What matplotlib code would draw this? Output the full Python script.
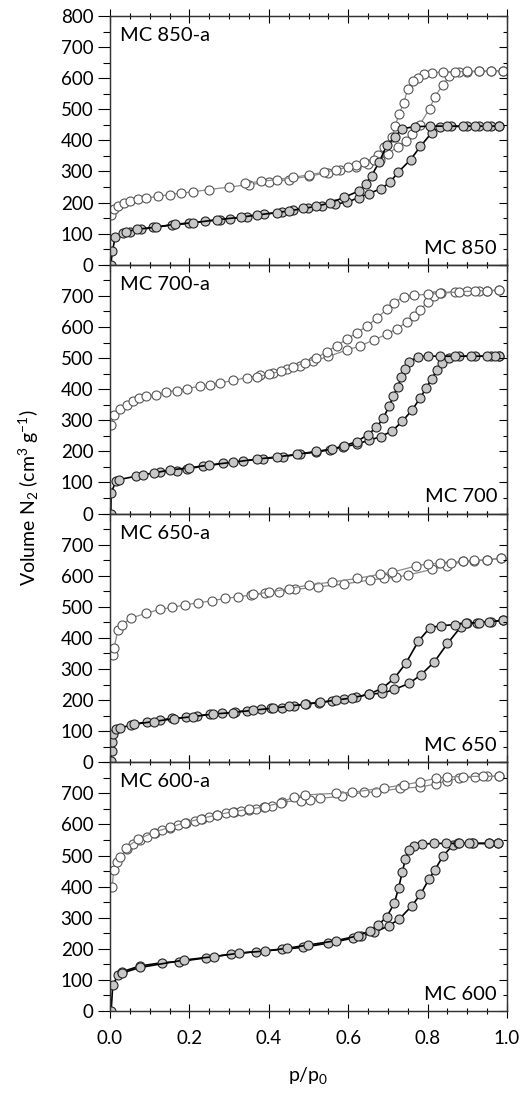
import numpy as np
import matplotlib.pyplot as plt

plt.rcParams['font.family'] = ['Lato', 'DejaVu Sans']
plt.rcParams['mathtext.fontset'] = 'custom'
plt.rcParams['mathtext.rm'] = 'Lato'
plt.rcParams['mathtext.it'] = 'Lato:italic'

# ---- MC850 panel ----
mc850a_ads_p = [0.003, 0.01, 0.02, 0.035, 0.05, 0.07, 0.09, 0.12, 0.15, 0.18, 0.21, 0.25, 0.30, 0.35,
                0.40, 0.45, 0.50, 0.55, 0.58, 0.62, 0.65, 0.68, 0.70, 0.725, 0.745, 0.76, 0.78, 0.805,
                0.818, 0.838, 0.855, 0.88, 0.90, 0.93, 0.96, 0.99]
mc850a_ads_v = [160, 178, 190, 198, 205, 210, 214, 220, 226, 230, 235, 242, 250, 258,
                265, 274, 285, 296, 305, 315, 325, 338, 357, 380, 399, 420, 450, 502,
                540, 578, 607, 620, 621, 622, 623, 624]
mc850a_des_p = [0.99, 0.96, 0.93, 0.90, 0.87, 0.84, 0.81, 0.79, 0.775, 0.763, 0.75, 0.74, 0.728, 0.718,
                0.71, 0.69, 0.675, 0.664, 0.64, 0.62, 0.60, 0.57, 0.54, 0.50, 0.46, 0.42, 0.38, 0.34]
mc850a_des_v = [624, 624, 623, 622, 621, 620, 618, 612, 600, 592, 566, 521, 485, 445,
                411, 380, 353, 336, 330, 322, 315, 305, 298, 289, 281, 274, 268, 262]
mc850_ads_p = [0.002, 0.006, 0.013, 0.034, 0.05, 0.079, 0.109, 0.155, 0.199, 0.239, 0.277, 0.302, 0.344,
               0.389, 0.432, 0.462, 0.498, 0.533, 0.566, 0.597, 0.626, 0.652, 0.683, 0.705, 0.726,
               0.757, 0.782, 0.81, 0.83, 0.86, 0.90, 0.93, 0.96, 0.98]
mc850_ads_v = [0, 43, 88, 101, 107, 114, 120, 128, 133, 140, 145, 147, 155,
               163, 169, 176, 183, 188, 195, 201, 216, 229, 245, 265, 298,
               338, 381, 424, 444, 445, 445, 445, 445, 445]
mc850_des_p = [0.98, 0.95, 0.92, 0.89, 0.85, 0.806, 0.769, 0.735, 0.718, 0.697, 0.678, 0.659, 0.644,
               0.626, 0.59, 0.554, 0.52, 0.487, 0.45, 0.42, 0.37, 0.33, 0.27, 0.21, 0.165, 0.117, 0.067, 0.04]
mc850_des_v = [446, 446, 446, 446, 446, 446, 444, 438, 411, 384, 330, 287, 260,
               237, 217, 199, 188, 181, 173, 168, 160, 153, 145, 135, 131, 121, 114, 106]

# ---- MC700 panel ----
mc700a_ads_p = [0.003, 0.01, 0.025, 0.042, 0.057, 0.074, 0.091, 0.117, 0.142, 0.168, 0.193, 0.226, 0.252,
                0.277, 0.311, 0.344, 0.378, 0.411, 0.445, 0.479, 0.512, 0.55, 0.597, 0.63, 0.664, 0.698,
                0.723, 0.749, 0.765, 0.78, 0.80, 0.816, 0.833, 0.87, 0.90, 0.93, 0.95, 0.98]
mc700a_ads_v = [286, 318, 337, 350, 361, 372, 377, 382, 392, 395, 402, 409, 413,
                420, 428, 437, 444, 452, 465, 476, 490, 505, 526, 539, 558, 577,
                595, 617, 635, 654, 680, 698, 710, 714, 715, 716, 717, 718]
mc700a_des_p = [0.98, 0.95, 0.92, 0.88, 0.83, 0.80, 0.765, 0.74, 0.715, 0.698, 0.673, 0.648, 0.622,
                0.597, 0.571, 0.546, 0.52, 0.49, 0.46, 0.43, 0.40, 0.37]
mc700a_des_v = [718, 717, 716, 713, 708, 705, 702, 697, 678, 657, 630, 603, 582,
                561, 540, 520, 500, 485, 470, 458, 448, 440]
mc700_ads_p = [0.002, 0.003, 0.015, 0.022, 0.066, 0.084, 0.126, 0.168, 0.193, 0.235, 0.285, 0.336,
               0.386, 0.436, 0.478, 0.52, 0.554, 0.588, 0.621, 0.653, 0.682, 0.711, 0.736, 0.761,
               0.782, 0.797, 0.811, 0.824, 0.837, 0.854, 0.88, 0.92, 0.96, 0.98]
mc700_ads_v = [0, 67, 104, 109, 120, 125, 133, 137, 144, 152, 161, 169,
               176, 183, 191, 198, 205, 214, 223, 236, 247, 266, 296, 333,
               373, 405, 434, 463, 485, 501, 506, 506, 506, 506]
mc700_des_p = [0.98, 0.97, 0.95, 0.91, 0.87, 0.83, 0.80, 0.775, 0.754, 0.744, 0.734, 0.725, 0.713,
               0.703, 0.688, 0.671, 0.65, 0.621, 0.59, 0.56, 0.52, 0.47, 0.42, 0.37, 0.31, 0.25,
               0.20, 0.15, 0.11]
mc700_des_v = [506, 506, 506, 506, 506, 506, 506, 504, 488, 466, 440, 408, 377,
               345, 306, 277, 254, 231, 218, 207, 200, 190, 182, 175, 165, 156,
               147, 140, 130]

# ---- MC650 panel ----
mc650a_ads_p = [0.008, 0.01, 0.02, 0.03, 0.052, 0.09, 0.127, 0.155, 0.189, 0.222, 0.256, 0.289, 0.323,
                0.356, 0.39, 0.425, 0.467, 0.523, 0.589, 0.655, 0.69, 0.72, 0.75, 0.81, 0.85, 0.89,
                0.917, 0.95, 0.984]
mc650a_ads_v = [345, 366, 425, 441, 463, 479, 492, 498, 506, 513, 519, 527, 532,
                538, 543, 548, 556, 564, 573, 586, 591, 595, 602, 620, 631, 647,
                648, 650, 656]
mc650a_des_p = [0.984, 0.95, 0.917, 0.89, 0.858, 0.83, 0.80, 0.77, 0.71, 0.68, 0.622, 0.56, 0.50,
                0.45, 0.40, 0.36]
mc650a_des_v = [656, 652, 649, 647, 642, 640, 638, 631, 611, 605, 591, 580, 570,
                558, 547, 540]
mc650_ads_p = [0.0025, 0.004, 0.005, 0.008, 0.015, 0.025, 0.052, 0.093, 0.127, 0.155, 0.192, 0.218,
               0.253, 0.283, 0.316, 0.346, 0.38, 0.405, 0.434, 0.463, 0.493, 0.527, 0.56, 0.59,
               0.62, 0.652, 0.686, 0.716, 0.754, 0.783, 0.817, 0.85, 0.884, 0.90, 0.925, 0.96, 0.99]
mc650_ads_v = [5, 37, 64, 91, 107, 109, 120, 130, 136, 141, 144, 149,
               154, 157, 162, 166, 170, 173, 175, 181, 187, 192, 197, 202,
               209, 219, 222, 234, 254, 281, 323, 382, 436, 447, 449, 452, 457]
mc650_des_p = [0.99, 0.955, 0.93, 0.896, 0.87, 0.833, 0.806, 0.777, 0.745, 0.716, 0.686, 0.652,
               0.61, 0.57, 0.53, 0.49, 0.45, 0.41, 0.36, 0.31, 0.26, 0.21, 0.16, 0.11, 0.06]
mc650_des_v = [457, 451, 449, 447, 443, 439, 433, 390, 318, 270, 238, 219,
               207, 200, 193, 187, 180, 174, 167, 160, 155, 147, 140, 131, 122]

# ---- MC600 panel ----
mc600a_ads_p = [0.006, 0.009, 0.017, 0.025, 0.043, 0.058, 0.075, 0.092, 0.113, 0.131, 0.15, 0.171,
                0.192, 0.213, 0.232, 0.249, 0.27, 0.291, 0.312, 0.329, 0.35, 0.367, 0.388, 0.409,
                0.434, 0.48, 0.505, 0.53, 0.585, 0.64, 0.67, 0.73, 0.78, 0.82, 0.85, 0.88, 0.92,
                0.95, 0.98]
mc600a_ads_v = [400, 453, 480, 496, 520, 537, 550, 560, 573, 582, 589, 598,
                605, 612, 616, 623, 630, 636, 641, 644, 648, 650, 655, 659,
                673, 676, 680, 684, 691, 704, 704, 716, 720, 730, 741, 748, 754,
                755, 755]
mc600a_des_p = [0.98, 0.94, 0.89, 0.85, 0.82, 0.78, 0.74, 0.69, 0.61, 0.568, 0.492, 0.464, 0.43,
                0.39, 0.35, 0.31, 0.27, 0.23, 0.19, 0.15, 0.11, 0.07, 0.04]
mc600a_des_v = [755, 755, 754, 753, 748, 737, 727, 718, 703, 700, 695, 689, 670,
                657, 649, 641, 631, 619, 606, 591, 574, 552, 525]
mc600_ads_p = [0.003, 0.007, 0.021, 0.03, 0.076, 0.13, 0.174, 0.242, 0.304, 0.367, 0.433, 0.487,
               0.548, 0.611, 0.632, 0.666, 0.702, 0.729, 0.76, 0.782, 0.803, 0.818, 0.839,
               0.864, 0.876, 0.912, 0.954, 0.977]
mc600_ads_v = [1, 84, 116, 126, 145, 155, 159, 171, 183, 191, 198, 205,
               218, 234, 240, 253, 274, 296, 338, 375, 423, 453, 499,
               534, 540, 539, 539, 539]
mc600_des_p = [0.977, 0.954, 0.915, 0.905, 0.878, 0.846, 0.817, 0.786, 0.765, 0.752, 0.744, 0.736,
               0.727, 0.716, 0.697, 0.676, 0.655, 0.625, 0.569, 0.498, 0.447, 0.391, 0.325, 0.263,
               0.187, 0.076, 0.03]
mc600_des_v = [539, 539, 539, 539, 539, 539, 539, 537, 531, 518, 488, 446,
               396, 346, 303, 277, 258, 242, 226, 212, 202, 193, 186, 175,
               164, 140, 122]

panels = [
    ("MC 850", mc850a_ads_p, mc850a_ads_v, mc850a_des_p, mc850a_des_v,
     mc850_ads_p, mc850_ads_v, mc850_des_p, mc850_des_v),
    ("MC 700", mc700a_ads_p, mc700a_ads_v, mc700a_des_p, mc700a_des_v,
     mc700_ads_p, mc700_ads_v, mc700_des_p, mc700_des_v),
    ("MC 650", mc650a_ads_p, mc650a_ads_v, mc650a_des_p, mc650a_des_v,
     mc650_ads_p, mc650_ads_v, mc650_des_p, mc650_des_v),
    ("MC 600", mc600a_ads_p, mc600a_ads_v, mc600a_des_p, mc600a_des_v,
     mc600_ads_p, mc600_ads_v, mc600_des_p, mc600_des_v),
]

fig, axes = plt.subplots(4, 1, figsize=(5.22, 11.06), dpi=100, sharex=True)
fig.subplots_adjust(left=0.2107, right=0.9713, top=0.9855, bottom=0.0859, hspace=0)

open_style = dict(color='#8a8a8a', lw=0.9, marker='o', ms=6.5, mfc='white', mec='#555555', mew=0.8)
fill_style = dict(color='black', lw=1.2, marker='o', ms=6.5, mfc='#c8c8c8', mec='#222222', mew=0.8)

for i, (ax, pan) in enumerate(zip(axes, panels)):
    name, aap, aav, adp, adv, ap, av, dp, dv = pan
    ax.plot(aap, aav, **open_style)
    ax.plot(adp, adv, **open_style)
    ax.plot(ap, av, **fill_style)
    ax.plot(dp, dv, **fill_style)

    ax.set_xlim(0, 1.0)
    ax.set_ylim(0, 800)
    ax.set_xticks(np.arange(0, 1.01, 0.2))
    ax.set_xticks(np.arange(0, 1.01, 0.05), minor=True)
    if i == 0:
        ax.set_yticks(np.arange(0, 801, 100))
    else:
        ax.set_yticks(np.arange(0, 701, 100))
    ax.set_yticks(np.arange(0, 801, 50), minor=True)

    ax.tick_params(axis='y', which='major', direction='out', length=9, width=0.8, labelsize=13.5, pad=3)
    ax.tick_params(axis='y', which='minor', direction='out', length=5, width=0.8)
    ax.tick_params(axis='x', which='major', direction='inout', length=10, width=0.8,
                   top=True, labelsize=13.5, pad=9)
    ax.tick_params(axis='x', which='minor', direction='inout', length=5, width=0.8, top=True)

    ax2 = ax.twinx()
    ax2.set_ylim(0, 800)
    ax2.set_yticks(np.arange(0, 801, 100))
    ax2.set_yticks(np.arange(0, 801, 50), minor=True)
    ax2.tick_params(axis='y', which='major', direction='in', length=6, width=0.8, labelright=False)
    ax2.tick_params(axis='y', which='minor', direction='in', length=3, width=0.8)

    for a in (ax, ax2):
        for s in a.spines.values():
            s.set_linewidth(0.9)
            s.set_color('#333333')

    ax.text(0.025, 0.955, name + "-a", transform=ax.transAxes, ha='left', va='top', fontsize=14.5)
    ax.text(0.975, 0.045, name, transform=ax.transAxes, ha='right', va='baseline', fontsize=14.5)

fig.text(0.055, 0.55, r"Volume N$_2$ (cm$^3$ g$^{-1}$)", rotation=90, ha='center', va='center',
         fontsize=14)
fig.text(0.59, 0.028, r"p/p$_0$", ha='center', va='center', fontsize=14)

plt.savefig("out.png", dpi=100)
